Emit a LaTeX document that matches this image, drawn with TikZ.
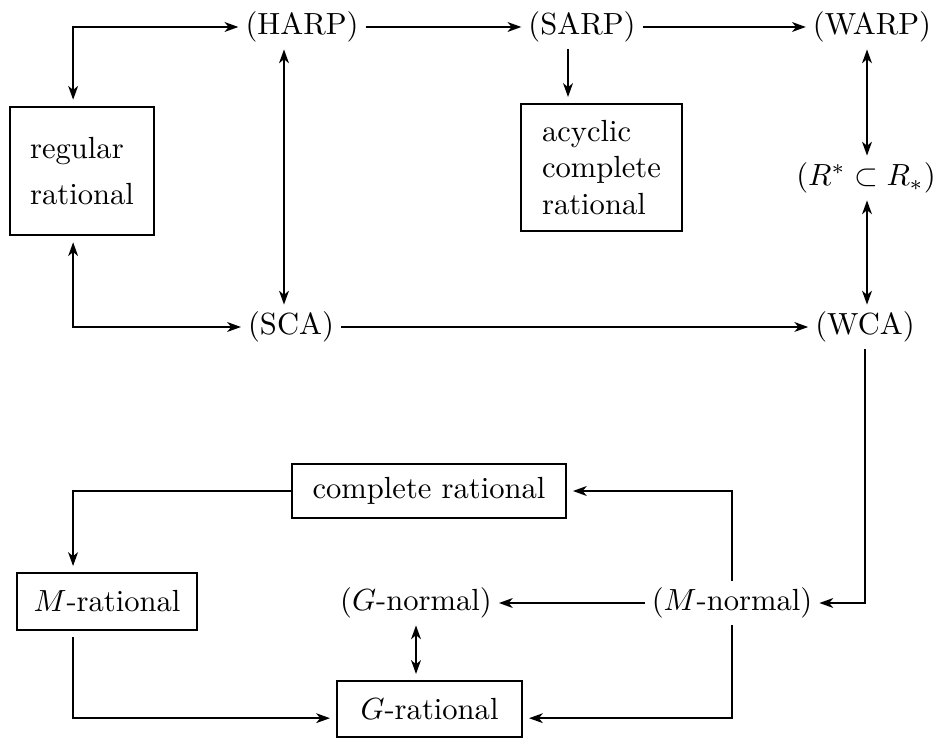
\documentclass[tikz,border=0pt]{standalone}
\usepackage{tikz}
\usetikzlibrary{shapes,arrows,positioning,calc,arrows.meta}

\begin{document}
\begin{tikzpicture}[-,>={Stealth[length=4.5pt,width=3.2pt,inset=1.3pt]}, line width=0.65pt, x=0.327pt, y=-0.327pt,
	prop/.style={inner sep=2pt},
	box/.style={draw, rectangle, inner sep=0pt, outer sep=2.3pt}]
	
	\useasboundingbox (0,0) rectangle (941,740);
	
	\node [prop] (harp) at (302,27) {(HARP)};
	\node [prop] (sarp) at (582,27) {(SARP)};
	\node [prop] (warp) at (872,27) {(WARP)};
	
	\node [box, minimum width=47pt, minimum height=42pt, align=left] (regular) at (82,171) {regular\\[3pt]rational};
	\node [box, minimum width=52.6pt, minimum height=41.5pt, align=left] (acyclic) at (601.5,167.5) {acyclic\\complete\\rational};
	\node [prop] (rstar) at (866,178) {$(R^*\subset R_*)$};
	
	\node [prop] (sca) at (291,327) {(SCA)};
	\node [prop] (wca) at (865,327) {(WCA)};
	
	\node [box, minimum width=89.5pt, minimum height=17.6pt] (complete) at (429,491) {complete rational};
	\node [box, minimum width=58.8pt, minimum height=18.6pt] (mrational) at (107,601.5) {$M$-rational};
	\node [prop] (gnormal) at (416,603) {($G$-normal)};
	\node [prop] (mnormal) at (732,603) {($M$-normal)};
	\node [box, minimum width=60.5pt, minimum height=18.3pt] (grational) at (429.5,709) {$G$-rational};
	
	\coordinate (hx) at (284,0);
	\coordinate (sx) at (568,0);
	\coordinate (rx) at (867,0);
	
	\draw [<->] (harp.west) -| ([xshift=-2.9pt]regular.north);
	\draw [<->] ([xshift=-2.9pt]regular.south) |- (sca.west);
	\draw [<->] (harp.south -| hx) -- (sca.north -| hx);
	\draw [->] (harp) -- (sarp);
	\draw [->] (sarp.south -| sx) -- (acyclic.north -| sx);
	\draw [->] (sarp) -- (warp);
	
	\draw [<->] (warp.south -| rx) -- (rstar.north -| rx);
	\draw [<->] (rstar.south -| rx) -- (wca.north -| rx);
	\draw [->] (sca) -- (wca);
	
	\draw [->] (wca.south) |- (mnormal.east);
	\draw [->] (mnormal.north) |- (complete.east);
	\draw [->] (mnormal) -- (gnormal);
	\draw [->] (mnormal.south) |- ([yshift=-3pt]grational.east);
	\draw [->, shorten <=-2.3pt] (complete.west) -| ([xshift=-11.1pt]mrational.north);
	\draw [->] ([xshift=-11.1pt]mrational.south) |- ([yshift=-3pt]grational.west);
	\draw [<->] (gnormal.south) -- (gnormal.south |- grational.north);
\end{tikzpicture}
\end{document}
